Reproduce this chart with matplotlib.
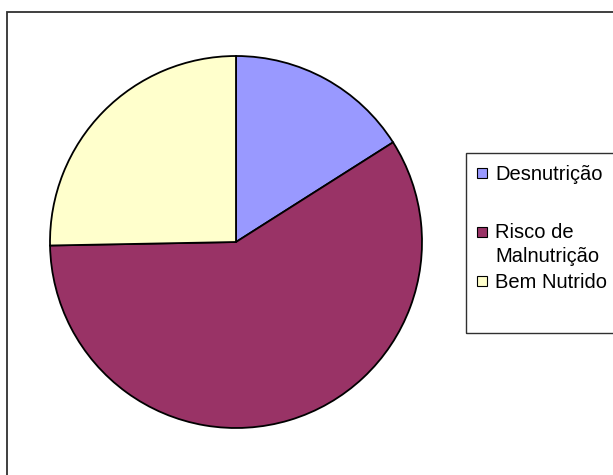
import matplotlib
matplotlib.use('Agg')
import matplotlib.pyplot as plt
from matplotlib.patches import Rectangle

plt.rcParams['font.family'] = ['Liberation Sans', 'DejaVu Sans']

labels = ['Desnutrição', 'Risco de\nMalnutrição', 'Bem Nutrido']
values = [16.0, 58.7, 25.3]
colors = ['#9999FF', '#993366', '#FFFFCC']

W, H = 613, 475
fig = plt.figure(figsize=(W / 100, H / 100), dpi=100)

def fx(px):
    return px / W

def fy(py):
    return 1 - py / H

# outer chart frame (cut off at right/bottom like the original)
fig.patches.append(Rectangle((fx(7), fy(H + 10)), fx(W + 10) - fx(7), fy(12) - fy(H + 10),
                             transform=fig.transFigure, fill=False,
                             edgecolor='#303030', linewidth=1.3))

# pie
cx, cy, r = 236, 242, 186
ax = fig.add_axes([fx(cx - r), fy(cy + r), 2 * r / W, 2 * r / H])
ax.pie(values, colors=colors, startangle=90, counterclock=False,
       wedgeprops=dict(edgecolor='black', linewidth=1.3), radius=1)
ax.set_xlim(-1.0, 1.0)
ax.set_ylim(-1.0, 1.0)
ax.set_aspect('auto')
ax.axis('off')

# legend box
fig.patches.append(Rectangle((fx(466), fy(333)), fx(W + 10) - fx(466), fy(153) - fy(333),
                             transform=fig.transFigure, fill=False,
                             edgecolor='#303030', linewidth=1.0))

baselines = [179.5, 238.5, 287.5]
for lab, col, yb in zip(labels, colors, baselines):
    fig.patches.append(Rectangle((fx(477), fy(yb - 2)), 9.5 / W, 9.5 / H,
                                 transform=fig.transFigure, facecolor=col,
                                 edgecolor='black', linewidth=0.8))
    for i, line in enumerate(lab.split('\n')):
        fig.text(fx(495), fy(yb + 24 * i), line, fontsize=14.5,
                 va='baseline', ha='left')

fig.savefig('out.png', dpi=100)
